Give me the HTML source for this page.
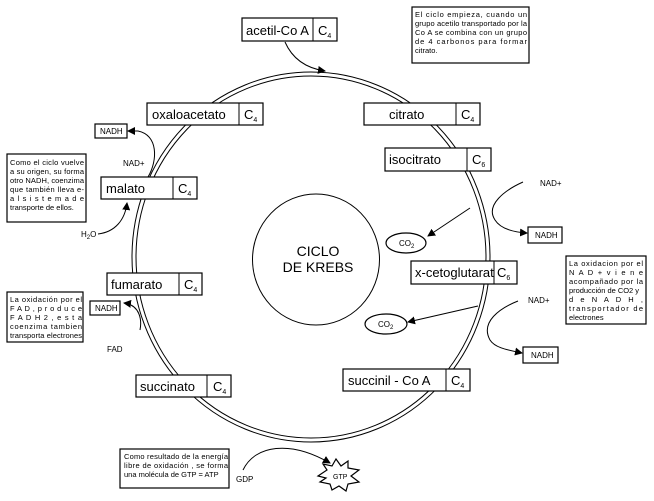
<!DOCTYPE html>
<html><head><meta charset="utf-8"><style>
body{margin:0;background:#fff;}
svg{display:block;font-family:"Liberation Sans",Arial,sans-serif;}
.b{fill:#fff;stroke:#000;stroke-width:1.2}
.l{fill:none;stroke:#000;stroke-width:1}
.t{font-size:13px}
.s{font-size:8px}
</style></head><body>
<svg width="654" height="501" viewBox="0 0 654 501">
<defs><marker id="a" markerWidth="8" markerHeight="8" refX="7" refY="4" orient="auto" markerUnits="userSpaceOnUse"><path d="M0,0 L8,4 L0,8z"/></marker></defs>
<!-- outer double ring -->
<ellipse cx="311" cy="257" rx="179" ry="185" class="l"/>
<ellipse cx="311" cy="257" rx="175" ry="181" class="l"/>
<!-- inner circle -->
<ellipse cx="316" cy="259.5" rx="63.5" ry="65.5" class="l"/>
<text x="318" y="256" text-anchor="middle" style="font-size:14px">CICLO</text>
<text x="318" y="272" text-anchor="middle" style="font-size:14px">DE KREBS</text>

<!-- connectors -->
<path d="M285,42 C292,58 305,68 325,71" class="l" marker-end="url(#a)"/>
<path d="M148,177 C158,160 158,135 138,131 L128,131" class="l" marker-end="url(#a)"/>
<path d="M98,234 C115,232 125,220 127,203" class="l" marker-end="url(#a)"/>
<path d="M140,330 C142,320 140,305 124,303" class="l" marker-end="url(#a)"/>
<path d="M470,208 L428,236" class="l" marker-end="url(#a)"/>
<path d="M523,182 C505,190 485,205 495,220 C500,228 512,232 527,233" class="l" marker-end="url(#a)"/>
<path d="M478,306 L408,322" class="l" marker-end="url(#a)"/>
<path d="M518,301 C500,308 480,322 490,340 C495,348 508,350 522,353" class="l" marker-end="url(#a)"/>
<path d="M243,470 C255,445 290,440 330,463" class="l" marker-end="url(#a)"/>

<!-- boxes -->
<rect x="242" y="18" width="95" height="23" class="b"/><line x1="313" y1="18" x2="313" y2="41" class="l"/>
<text x="246" y="35" class="t">acetil-Co A</text><text x="318" y="35" class="t">C<tspan style="font-size:7px" dy="3">4</tspan></text>

<rect x="147" y="103" width="116" height="22" class="b"/><line x1="239" y1="103" x2="239" y2="125" class="l"/>
<text x="152" y="119" class="t">oxaloacetato</text><text x="244" y="119" class="t">C<tspan style="font-size:7px" dy="3">4</tspan></text>

<rect x="364" y="103" width="116" height="22" class="b"/><line x1="456" y1="103" x2="456" y2="125" class="l"/>
<text x="389" y="119" class="t">citrato</text><text x="461" y="119" class="t">C<tspan style="font-size:7px" dy="3">4</tspan></text>

<rect x="385" y="148" width="106" height="23" class="b"/><line x1="467" y1="148" x2="467" y2="171" class="l"/>
<text x="389" y="164" class="t">isocitrato</text><text x="472" y="164" class="t">C<tspan style="font-size:7px" dy="3">6</tspan></text>

<rect x="101" y="177" width="96" height="22" class="b"/><line x1="173" y1="177" x2="173" y2="199" class="l"/>
<text x="106" y="193" class="t">malato</text><text x="178" y="193" class="t">C<tspan style="font-size:7px" dy="3">4</tspan></text>

<rect x="411" y="261" width="106" height="23" class="b"/><line x1="494" y1="261" x2="494" y2="284" class="l"/>
<text x="415" y="277" class="t">x-cetoglutarat</text><text x="497" y="277" class="t">C<tspan style="font-size:7px" dy="3">6</tspan></text>

<rect x="107" y="273" width="95" height="22" class="b"/><line x1="179" y1="273" x2="179" y2="295" class="l"/>
<text x="111" y="289" class="t">fumarato</text><text x="184" y="289" class="t">C<tspan style="font-size:7px" dy="3">4</tspan></text>

<rect x="343" y="369" width="127" height="22" class="b"/><line x1="446" y1="369" x2="446" y2="391" class="l"/>
<text x="348" y="385" class="t">succinil - Co A</text><text x="451" y="385" class="t">C<tspan style="font-size:7px" dy="3">4</tspan></text>

<rect x="136" y="375" width="95" height="22" class="b"/><line x1="207" y1="375" x2="207" y2="397" class="l"/>
<text x="140" y="391" class="t">succinato</text><text x="213" y="391" class="t">C<tspan style="font-size:7px" dy="3">4</tspan></text>

<!-- small NADH boxes -->
<rect x="95" y="124" width="32" height="14" class="b"/><text x="100" y="134" class="s">NADH</text>
<rect x="528" y="227" width="34" height="16" class="b"/><text x="535" y="238" class="s">NADH</text>
<rect x="523" y="347" width="35" height="16" class="b"/><text x="531" y="358" class="s">NADH</text>
<rect x="90" y="301" width="30" height="14" class="b"/><text x="95" y="311" class="s">NADH</text>

<text x="123" y="166" class="s">NAD+</text>
<text x="540" y="186" class="s">NAD+</text>
<text x="528" y="303" class="s">NAD+</text>
<text x="81" y="237" class="s">H<tspan dy="2" style="font-size:6px">2</tspan><tspan dy="-2">O</tspan></text>
<text x="107" y="352" class="s">FAD</text>
<text x="236" y="482" class="s">GDP</text>

<!-- CO2 ellipses -->
<ellipse cx="406" cy="243" rx="20" ry="10" class="b"/><text x="399" y="246" class="s">CO<tspan dy="2" style="font-size:6px">2</tspan></text>
<ellipse cx="386" cy="324" rx="21" ry="10" class="b"/><text x="378" y="327" class="s">CO<tspan dy="2" style="font-size:6px">2</tspan></text>

<!-- GTP star -->
<polygon points="318,476 327,470 323,464 332,466 336,459 341,466 348,461 348,468 359,470 351,476 359,482 348,484 346,491 339,486 332,490 330,484 320,482 326,478" class="b"/>
<text x="333" y="479" style="font-size:7px">GTP</text>

<!-- text boxes -->
<rect x="412" y="7" width="117" height="56" class="b"/>
<g class="s" style="font-size:7.5px">
<text x="415" y="17" textLength="112">El ciclo empieza, cuando un</text>
<text x="415" y="26" textLength="112">grupo acetilo transportado por la</text>
<text x="415" y="35" textLength="112">Co A se combina con un grupo</text>
<text x="415" y="44" textLength="112">de 4 carbonos para formar</text>
<text x="415" y="53">citrato.</text>
</g>
<rect x="7" y="154" width="79" height="68" class="b"/>
<g style="font-size:7.5px">
<text x="10" y="165" textLength="74">Como el ciclo vuelve</text>
<text x="10" y="174" textLength="74">a su origen, su forma</text>
<text x="10" y="183" textLength="74">otro NADH, coenzima</text>
<text x="10" y="192" textLength="74">que también lleva e-</text>
<text x="10" y="201" textLength="74">a l  s i s t e m a  d e</text>
<text x="10" y="210">transporte de ellos.</text>
</g>
<rect x="566" y="256" width="80" height="68" class="b"/>
<g style="font-size:7.5px">
<text x="569" y="266" textLength="74">La oxidacion por el</text>
<text x="569" y="275" textLength="74">N A D +  v i e n e</text>
<text x="569" y="284" textLength="74">acompañado por la</text>
<text x="569" y="293" textLength="70">producción de CO2 y</text>
<text x="569" y="302" textLength="74">d e   N A D H ,</text>
<text x="569" y="311" textLength="74">transportador de</text>
<text x="569" y="320">electrones</text>
</g>
<rect x="7" y="292" width="76" height="50" class="b"/>
<g style="font-size:7.5px">
<text x="10" y="302" textLength="72">La oxidación por el</text>
<text x="10" y="311" textLength="72">F A D ,  p r o d u c e</text>
<text x="10" y="320" textLength="72">F A D H 2 ,  e s t a</text>
<text x="10" y="329" textLength="72">coenzima tambien</text>
<text x="10" y="338" textLength="72">transporta electrones</text>
</g>
<rect x="120" y="449" width="109" height="39" class="b"/>
<g style="font-size:7.5px">
<text x="124" y="459" textLength="104">Como resultado de la energía</text>
<text x="124" y="468" textLength="104">libre de oxidación , se forma</text>
<text x="124" y="477">una molécula de GTP = ATP</text>
</g>
</svg>
</body></html>
